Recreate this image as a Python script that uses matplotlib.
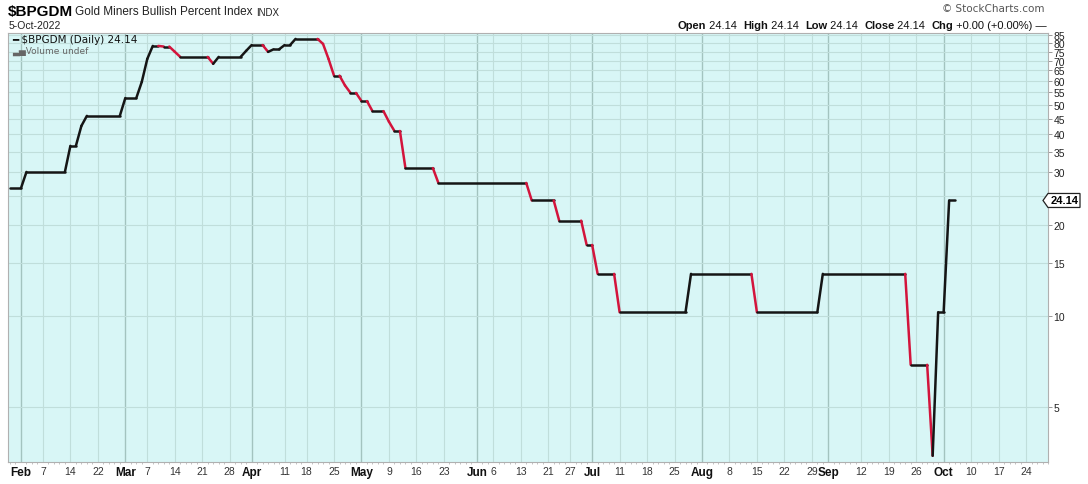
import numpy as np
import matplotlib
matplotlib.use("Agg")
import matplotlib.pyplot as plt
import matplotlib.transforms as mtransforms
from matplotlib.collections import LineCollection
from matplotlib.patches import Polygon

# bors-helligdager 2022 (ingen handel)
helligdager = ['2022-02-21', '2022-04-15', '2022-05-30', '2022-06-20', '2022-07-04', '2022-09-05']

# knekkpunkter i linja (dato, verdi) lest av bildet
datoer = ['2022-01-28', '2022-02-01', '2022-02-02', '2022-02-11', '2022-02-14', '2022-02-15',
          '2022-02-16', '2022-02-17', '2022-02-28', '2022-03-01', '2022-03-03', '2022-03-04',
          '2022-03-07', '2022-03-08', '2022-03-09', '2022-03-10', '2022-03-11', '2022-03-14',
          '2022-03-15', '2022-03-22', '2022-03-23', '2022-03-24', '2022-03-30', '2022-03-31',
          '2022-04-01', '2022-04-05', '2022-04-06', '2022-04-07', '2022-04-08', '2022-04-11',
          '2022-04-12', '2022-04-13', '2022-04-20', '2022-04-21', '2022-04-22', '2022-04-25',
          '2022-04-26', '2022-04-27', '2022-04-28', '2022-04-29', '2022-05-02', '2022-05-03',
          '2022-05-04', '2022-05-06', '2022-05-09', '2022-05-10', '2022-05-11', '2022-05-12',
          '2022-05-19', '2022-05-20', '2022-06-14', '2022-06-15', '2022-06-22', '2022-06-23',
          '2022-06-29', '2022-06-30', '2022-07-01', '2022-07-05', '2022-07-08', '2022-07-11',
          '2022-07-27', '2022-07-28', '2022-08-12', '2022-08-15', '2022-08-30', '2022-08-31',
          '2022-09-22', '2022-09-23', '2022-09-28', '2022-09-29', '2022-09-30', '2022-10-03',
          '2022-10-04', '2022-10-05']
verdier = [26.5, 26.5, 30.0, 30.0, 36.6, 36.6,
           42.6, 46.0, 46.0, 52.7, 52.7, 59.6,
           71.0, 78.4, 78.4, 78.0, 78.0, 75.0,
           72.1, 72.1, 68.4, 72.1, 72.1, 75.5,
           78.9, 78.9, 74.9, 76.4, 76.4, 78.9,
           78.9, 82.7, 82.7, 79.6, 71.0, 62.5,
           62.5, 58.0, 54.8, 54.8, 51.5, 51.5,
           47.7, 47.7, 44.0, 41.0, 41.0, 30.9,
           30.9, 27.6, 27.6, 24.14, 24.14, 20.7,
           20.7, 17.2, 17.2, 13.8, 13.8, 10.3,
           10.3, 13.8, 13.8, 10.3, 10.3, 13.8,
           13.8, 6.9, 6.9, 3.45, 10.3, 10.3,
           24.14, 24.14]

tick_datoer = ['2022-02-01', '2022-02-07', '2022-02-14', '2022-02-22', '2022-03-01', '2022-03-07',
               '2022-03-14', '2022-03-21', '2022-03-28', '2022-04-01', '2022-04-11', '2022-04-18',
               '2022-04-25', '2022-05-02', '2022-05-09', '2022-05-16', '2022-05-23', '2022-06-01',
               '2022-06-06', '2022-06-13', '2022-06-21', '2022-06-27', '2022-07-01', '2022-07-11',
               '2022-07-18', '2022-07-25', '2022-08-01', '2022-08-08', '2022-08-15', '2022-08-22',
               '2022-08-29', '2022-09-01', '2022-09-12', '2022-09-19', '2022-09-26', '2022-10-03',
               '2022-10-10', '2022-10-17', '2022-10-24']
tick_navn = ['Feb', '7', '14', '22', 'Mar', '7', '14', '21', '28', 'Apr', '11', '18', '25',
             'May', '9', '16', '23', 'Jun', '6', '13', '21', '27', 'Jul', '11', '18', '25',
             'Aug', '8', '15', '22', '29', 'Sep', '12', '19', '26', 'Oct', '10', '17', '24']
y_ticks = [5, 10, 15, 20, 25, 30, 35, 40, 45, 50, 55, 60, 65, 70, 75, 80, 85]

siste = verdier[-1]


def handelsdag(d):
    # antall handelsdager fra 1. feb
    return np.busday_count('2022-02-01', d, holidays=helligdager)


x = np.array([handelsdag(d) for d in datoer], dtype=float)
y = np.array(verdier)
tx = np.array([handelsdag(d) for d in tick_datoer], dtype=float)

W, H = 1088, 485
fig = plt.figure(figsize=(W / 100, H / 100), dpi=100)
ax = fig.add_axes([8 / W, (H - 463) / H, 1040 / W, 429 / H])
ax.set_facecolor('#d8f6f6')

ax.set_yscale('log')
ax.set_ylim(3.29, 86.5)
ax.set_xlim(-2.36, 186.7)

# rutenett
for t, navn in zip(tx, tick_navn):
    er_mnd = not navn.isdigit()
    ax.axvline(t, color='#a3c3bf' if er_mnd else '#c0dedb', lw=1.0 if er_mnd else 0.8, zorder=1)
for v in y_ticks:
    ax.axhline(v, color='#c0dedb', lw=0.8, zorder=1)

# linja, rod der den faller
segs = np.stack([np.column_stack([x[:-1], y[:-1]]), np.column_stack([x[1:], y[1:]])], axis=1)
farger = ['#d3143c' if y[i + 1] < y[i] else '#151515' for i in range(len(y) - 1)]
lc = LineCollection(segs, colors=farger, linewidths=1.8, capstyle='round', joinstyle='round', zorder=3)
ax.add_collection(lc)

# akser
for s in ax.spines.values():
    s.set_color('#b0b0b0')
    s.set_linewidth(0.8)

ax.yaxis.tick_right()
ax.set_yticks(y_ticks)
ax.set_yticklabels([str(v) for v in y_ticks])
ax.yaxis.set_minor_locator(matplotlib.ticker.NullLocator())
ax.tick_params(axis='y', which='major', length=3, width=0.6, color='#888888', pad=1,
               labelsize=7.5, labelcolor='#222222')
for lab in ax.get_yticklabels():
    lab.set_family(['Liberation Sans Narrow', 'Liberation Sans'])

ax.set_xticks(tx)
ax.set_xticklabels(tick_navn)
alle_dager = np.arange(-2, 188)
ax.set_xticks(alle_dager, minor=True)
ax.tick_params(axis='x', which='major', length=0, pad=3, labelsize=7.5, labelcolor='#333333')
ax.tick_params(axis='x', which='minor', length=1.5, width=0.5, color='#aaaaaa')
for lab, navn in zip(ax.get_xticklabels(), tick_navn):
    lab.set_family('Liberation Sans')
    if not navn.isdigit():
        lab.set_fontweight('bold')
        lab.set_fontsize(8.5)
        lab.set_color('#111111')

# prisetikett til hoyre
blend = mtransforms.blended_transform_factory(ax.transAxes, ax.transData)
etikett_tr = fig.dpi_scale_trans + mtransforms.ScaledTranslation(1.0, siste, blend)
boks = Polygon([(-0.05, 0), (0.0, 0.07), (0.32, 0.07), (0.32, -0.07), (0.0, -0.07)],
               closed=True, transform=etikett_tr, facecolor='white', edgecolor='#222222',
               lw=0.9, clip_on=False, zorder=5)
fig.add_artist(boks)
fig.text(0.165, 0, '%.2f' % siste, transform=etikett_tr, ha='center', va='center',
         fontsize=8, fontweight='bold', family='Liberation Sans', zorder=6)


def px(xp, yp):
    return xp / W, 1 - yp / H


# overskrift
fig.text(*px(8, 12), '$BPGDM', fontsize=11, fontweight='bold', family='Liberation Sans',
         va='center', ha='left')
fig.text(*px(75, 12), 'Gold Miners Bullish Percent Index', fontsize=8.5, family='Liberation Sans',
         va='center', ha='left', color='#222222')
fig.text(*px(256, 13), 'INDX', fontsize=7, family='Liberation Sans', va='center', ha='left',
         color='#222222')
fig.text(*px(9, 26), '5-Oct-2022', fontsize=7.5, family='Liberation Sans', va='center', ha='left',
         color='#222222')
fig.text(*px(1044, 9), '\u00a9 StockCharts.com', fontsize=7.5, family='DejaVu Sans', va='center',
         ha='right', color='#555555')

# Open/High/Low/Close linje, hoyrejustert
biter = [('Open', 'bold'), (' 24.14  ', 'normal'), ('High', 'bold'), (' 24.14  ', 'normal'),
         ('Low', 'bold'), (' 24.14  ', 'normal'), ('Close', 'bold'), (' 24.14  ', 'normal'),
         ('Chg', 'bold'), (' +0.00 (+0.00%) \u2014', 'normal')]
renderer = fig.canvas.get_renderer()
tekster = []
xpos = 0.0
for tekst, vekt in biter:
    t = fig.text(xpos / W, 1 - 26 / H, tekst, fontsize=8, fontweight=vekt, family='Liberation Sans',
                 va='center', ha='left', color='#111111')
    bredde = t.get_window_extent(renderer).width
    tekster.append((t, xpos))
    xpos += bredde
skift = 1047 - xpos
for t, x0 in tekster:
    t.set_x((x0 + skift) / W)

# legende inne i plottet
ax.text(4 / 1040, 1 - 6 / 429, '\u2501 $BPGDM (Daily) 24.14', transform=ax.transAxes, fontsize=7.5,
        family='DejaVu Sans', va='center', ha='left', color='#111111', zorder=6)
ax.text(4 / 1040, 1 - 17 / 429, '\u2583\u2585Volume undef', transform=ax.transAxes, fontsize=6.5,
        family='DejaVu Sans', va='center', ha='left', color='#666666', zorder=6)

fig.savefig('out.png', dpi=100)
